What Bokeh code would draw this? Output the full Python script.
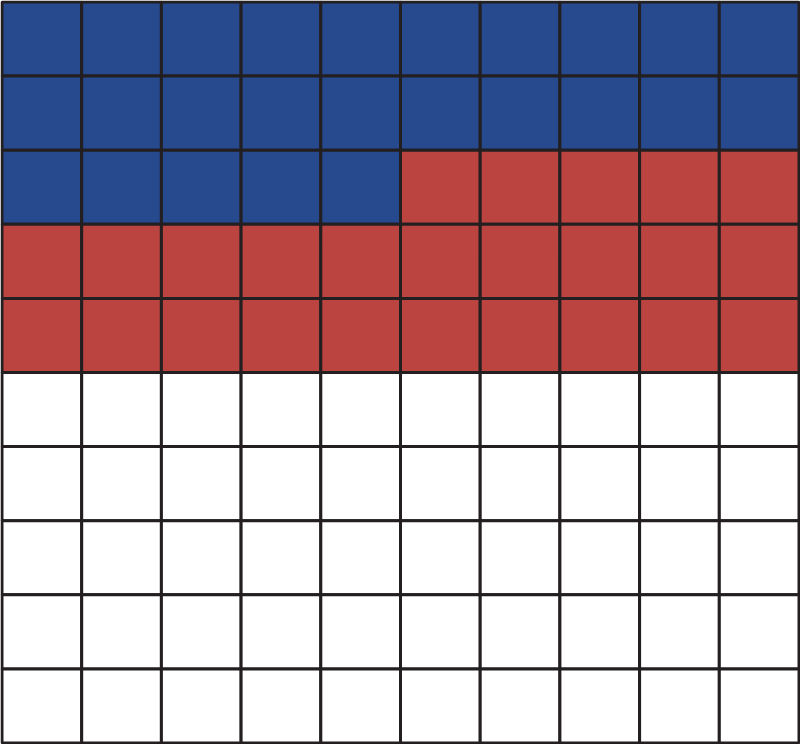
from bokeh.plotting import figure
from bokeh.models import ColumnDataSource, Range1d
from bokeh.embed import file_html
from bokeh.resources import INLINE

# Data
categories = ["Blue", "Red", "Empty"]
counts = [25, 25, 50]
colors = ["#274a8f", "#bb4441", "#ffffff"]
n_cols = 10
n_rows = 10

xs, ys, fills, cats = [], [], [], []
idx = 0
for cat, cnt, col in zip(categories, counts, colors):
    for _ in range(cnt):
        r = idx // n_cols
        c = idx % n_cols
        xs.append(c + 0.5)
        ys.append(n_rows - r - 0.5)
        fills.append(col)
        cats.append(cat)
        idx += 1

src = ColumnDataSource(dict(x=xs, y=ys, fill=fills, cat=cats))

W, H = 800, 744
padx = 1.5 / (W / n_cols)
pady = 1.5 / (H / n_rows)

p = figure(width=W, height=H, output_backend="svg", toolbar_location=None,
           x_range=Range1d(-padx, n_cols + padx), y_range=Range1d(-pady, n_rows + pady),
           min_border=0, min_border_left=0, min_border_right=0,
           min_border_top=0, min_border_bottom=0)
p.axis.visible = False
p.grid.visible = False
p.outline_line_color = None
p.background_fill_color = "#ffffff"
p.border_fill_color = "#ffffff"

p.rect(x="x", y="y", width=1, height=1, source=src, fill_color="fill",
       line_color="#231f20", line_width=3)

open("out.html", "w").write(file_html(p, INLINE))
